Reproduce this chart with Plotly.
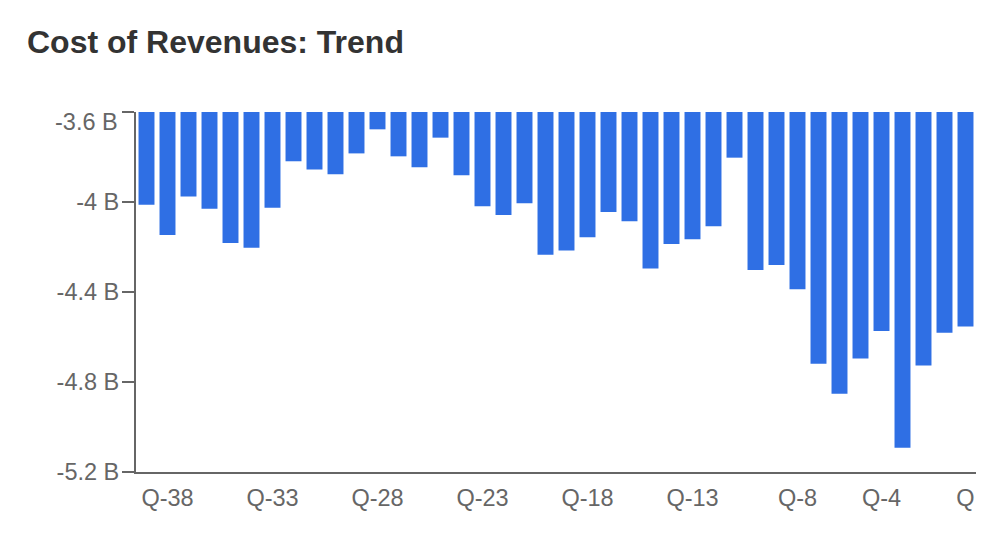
import plotly.graph_objects as go

categories = [f"Q-{i}" for i in range(39, 0, -1)] + ["Q"]
values_b = [-4.012, -4.147, -3.975, -4.030, -4.182, -4.203, -4.025, -3.819, -3.856, -3.877,
            -3.784, -3.677, -3.797, -3.846, -3.714, -3.881, -4.019, -4.058, -4.006, -4.234,
            -4.215, -4.157, -4.044, -4.086, -4.295, -4.187, -4.166, -4.108, -3.803, -4.302,
            -4.280, -4.388, -4.719, -4.852, -4.695, -4.573, -5.092, -4.727, -4.581, -4.553]
x_tick_labels = ["Q-38", "Q-33", "Q-28", "Q-23", "Q-18", "Q-13", "Q-8", "Q-4", "Q"]
y_tick_vals = [-3.6, -4.0, -4.4, -4.8, -5.2]
y_tick_text = ["-3.6 B", "-4 B", "-4.4 B", "-4.8 B", "-5.2 B"]
BASE = -3.6
FONT = "Liberation Sans, Arial, sans-serif"

fig = go.Figure(go.Bar(
    x=categories, y=[v - BASE for v in values_b], base=BASE,
    marker=dict(color="#2f6fe4", line=dict(width=0)),
    customdata=values_b, hovertemplate="%{x}: %{customdata} B<extra></extra>",
))

# top tick label sits a little below its tick (as in the reference); draw it as an annotation
fig.add_annotation(text=y_tick_text[0], xref="paper", x=0, y=y_tick_vals[0], yref="y",
                   xanchor="right", yanchor="middle", xshift=-16, yshift=-10, showarrow=False,
                   font=dict(size=23.5, color="#666666", family=FONT))

fig.update_layout(
    width=1001, height=555,
    margin=dict(l=136, r=25, t=112, b=83),
    paper_bgcolor="white", plot_bgcolor="white",
    bargap=0.24,
    showlegend=False,
    font=dict(family=FONT, size=23.5, color="#666666"),
    title=dict(text="<b>Cost of Revenues: Trend</b>", xref="container", yref="container",
               x=27/1001, xanchor="left", y=1-42/555, yanchor="middle",
               font=dict(size=32, color="#333333", family=FONT)),
    xaxis=dict(type="category", tickmode="array", tickvals=x_tick_labels, ticktext=x_tick_labels,
               showline=True, linecolor="#666666", linewidth=2, ticks="", showgrid=False,
               zeroline=False, ticklabelstandoff=4,
               tickfont=dict(size=23.5, color="#666666")),
    yaxis=dict(range=[-5.2, -3.6], tickmode="array", tickvals=y_tick_vals,
               ticktext=[""] + y_tick_text[1:],
               showline=True, linecolor="#666666", linewidth=2, ticks="outside", ticklen=12,
               tickcolor="#666666", tickwidth=2, showgrid=False, zeroline=False,
               ticklabelstandoff=-2, tickfont=dict(size=23.5, color="#666666")),
)

fig.write_html("out.html")
